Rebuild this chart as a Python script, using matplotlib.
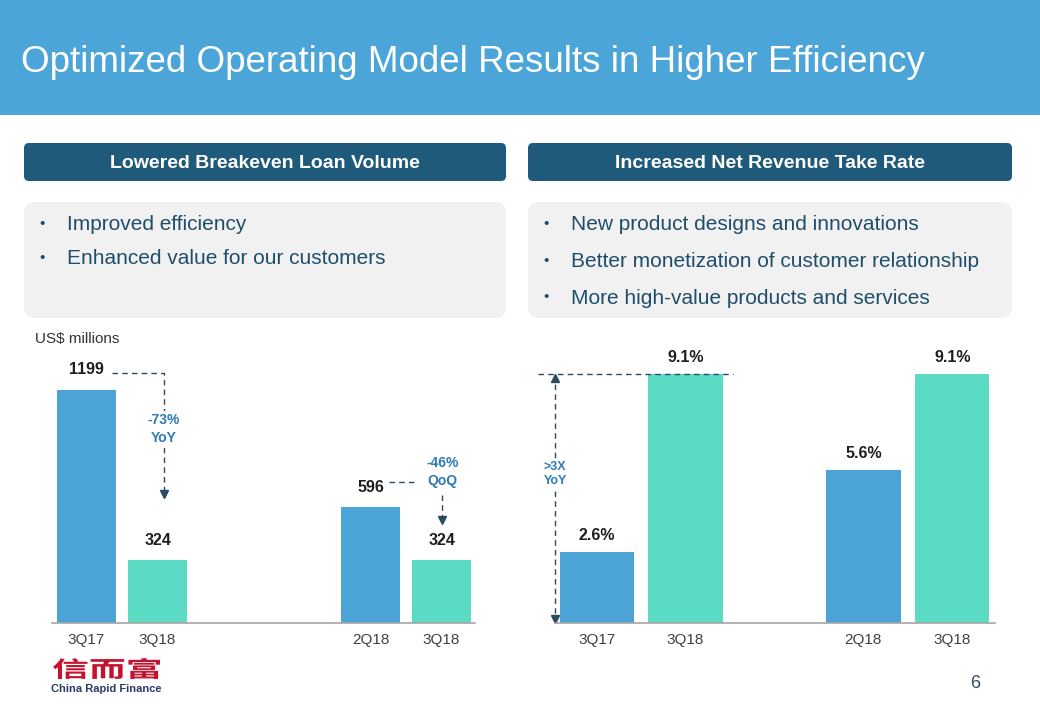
import numpy as np
import matplotlib.pyplot as plt
from matplotlib.patches import FancyBboxPatch, Rectangle, PathPatch
from matplotlib.textpath import TextPath
from matplotlib.font_manager import FontProperties
from matplotlib.transforms import Affine2D

plt.rcParams['font.family'] = ['Liberation Sans', 'DejaVu Sans']

title = "Optimized Operating Model Results in Higher Efficiency"
left_header = "Lowered Breakeven Loan Volume"
right_header = "Increased Net Revenue Take Rate"
left_bullets = ["Improved efficiency", "Enhanced value for our customers"]
right_bullets = ["New product designs and innovations",
                 "Better monetization of customer relationship",
                 "More high-value products and services"]

vol_labels = ["3Q17", "3Q18", "2Q18", "3Q18"]
vol_values = [1199, 324, 596, 324]
rate_labels = ["3Q17", "3Q18", "2Q18", "3Q18"]
rate_values = [2.6, 9.1, 5.6, 9.1]

BANNER = '#4BA5D8'
BLUE = '#4BA3D6'
TEAL = '#5CDBC4'
NAVY = '#1F5A7B'
ANNO = '#2E7BB6'
LINE = '#2B4B60'
TXT = '#1F4E6B'
bar_colors = [BLUE, TEAL, BLUE, TEAL]

fig = plt.figure(figsize=(10.4, 7.2), dpi=100)

# overlay in pixel coords for the slide decoration
ov = fig.add_axes([0, 0, 1, 1])
ov.set_xlim(0, 1040)
ov.set_ylim(720, 0)
ov.axis('off')

ov.add_patch(Rectangle((0, 0), 1040, 115, color=BANNER, lw=0))
ov.text(21, 62, title, color='white', fontsize=26.5, va='center', ha='left')

for x0, w, head, bullets, step in [(24, 482, left_header, left_bullets, 34),
                                   (528, 484, right_header, right_bullets, 36.5)]:
    ov.add_patch(FancyBboxPatch((x0, 143), w, 38, boxstyle="round,pad=0,rounding_size=5",
                                fc=NAVY, ec='none'))
    ov.text(x0 + w / 2, 164, head, color='white', fontsize=14, fontweight='bold',
            ha='center', va='center')
    ov.add_patch(FancyBboxPatch((x0, 202), w, 116, boxstyle="round,pad=0,rounding_size=12",
                                fc='#F1F1F1', ec='none'))
    for i, b in enumerate(bullets):
        y = 225 + i * step
        ov.text(x0 + 18, y - 1, "\u2022", color=TXT, fontsize=11, ha='center', va='center')
        ov.text(x0 + 43, y, b, color=TXT, fontsize=15, ha='left', va='center')

ov.text(35, 339, "US$ millions", fontsize=11, color='#333333', ha='left', va='center')

# logo
tp = TextPath((0, 0), "信而富", size=1,
              prop=FontProperties(family='Noto Sans CJK SC', weight='bold'))
bb = tp.get_extents()
tr = Affine2D().translate(-bb.x0, -bb.y0).scale(107 / bb.width, -21 / bb.height).translate(53, 679)
ov.add_patch(PathPatch(tr.transform_path(tp), fc='#C4122F', ec='none'))
ov.text(106, 689, "China Rapid Finance", fontsize=8, fontweight='bold', color='#2B3A6B',
        ha='center', va='center')
ov.text(975, 684, "6", fontsize=13, color='#2F4F60', ha='center', va='center')


def style(ax):
    for s in ['top', 'right', 'left']:
        ax.spines[s].set_visible(False)
    ax.spines['bottom'].set_color('#A6A6A6')
    ax.spines['bottom'].set_linewidth(1.2)
    ax.set_yticks([])
    ax.tick_params(axis='x', length=0, pad=7, labelsize=11, labelcolor='#404040')
    ax.set_facecolor('none')


def dashed(ax, xs, ys):
    ax.plot(xs, ys, ls=(0, (4, 3)), color=LINE, lw=1, clip_on=False)


# left chart: breakeven loan volume
ax1 = fig.add_axes([52 / 1040, 1 - 623 / 720, 423 / 1040, 283 / 720])
vol_pos = [0, 1, 4, 5]
ax1.bar(vol_pos, vol_values, width=0.83, color=bar_colors)
ax1.set_xlim(-0.486, 5.47)
ax1.set_ylim(0, 1456)
ax1.set_xticks(vol_pos, vol_labels)
style(ax1)
ppu1 = 283 / 1456
for x, v in zip(vol_pos, vol_values):
    ax1.annotate(str(v), (x, v), xytext=(0, 20 * 0.72), textcoords='offset points',
                 ha='center', va='center', fontsize=11.5, fontweight='bold', color='#1E1E1E')

y_hi = vol_values[0] + 17 / ppu1
tip = vol_values[1] + 66 / ppu1
dashed(ax1, [0.36, 1.09, 1.09], [y_hi, y_hi, tip])
ax1.plot(1.09, tip, marker='v', ms=6, color=LINE, clip_on=False)
ax1.text(1.09, vol_values[1] + 131 / ppu1, "-73%\nYoY", color=ANNO, fontsize=10,
         fontweight='bold', ha='center', va='center', linespacing=1.3,
         bbox=dict(fc='white', ec='none', pad=2))

y_mid = vol_values[2] + 25 / ppu1
dashed(ax1, [4.26, 4.61], [y_mid, y_mid])
ax1.text(5.01, vol_values[3] + 88 / ppu1, "-46%\nQoQ", color=ANNO, fontsize=10,
         fontweight='bold', ha='center', va='center', linespacing=1.3)
dashed(ax1, [5.0, 5.0], [vol_values[3] + 65 / ppu1, vol_values[3] + 40 / ppu1])
ax1.plot(5.0, vol_values[3] + 40 / ppu1, marker='v', ms=6, color=LINE, clip_on=False)

# right chart: net revenue take rate
ax2 = fig.add_axes([555 / 1040, 1 - 623 / 720, 440 / 1040, 283 / 720])
rate_pos = [0, 1, 3, 4]
ax2.bar(rate_pos, rate_values, width=0.836, color=bar_colors)
ax2.set_xlim(-0.469, 4.48)
ax2.set_ylim(0, 10.34)
ax2.set_xticks(rate_pos, rate_labels)
style(ax2)
ppu2 = 283 / 10.34
for x, v in zip(rate_pos, rate_values):
    ax2.annotate(f"{v:.1f}%", (x, v), xytext=(0, 16 * 0.72), textcoords='offset points',
                 ha='center', va='center', fontsize=11.5, fontweight='bold', color='#1E1E1E')

dashed(ax2, [-0.66, 1.53], [rate_values[1], rate_values[1]])
dashed(ax2, [-0.469, -0.469], [0, rate_values[1]])
ax2.plot(-0.469, rate_values[1] - 4 / ppu2, marker='^', ms=6, color=LINE, clip_on=False)
ax2.plot(-0.469, 4 / ppu2, marker='v', ms=6, color=LINE, clip_on=False)
ax2.text(-0.469, 149 / ppu2, ">3X\nYoY", color=ANNO, fontsize=9, fontweight='bold',
         ha='center', va='center', linespacing=1.3, bbox=dict(fc='white', ec='none', pad=1))

fig.savefig('out.png', dpi=100)
